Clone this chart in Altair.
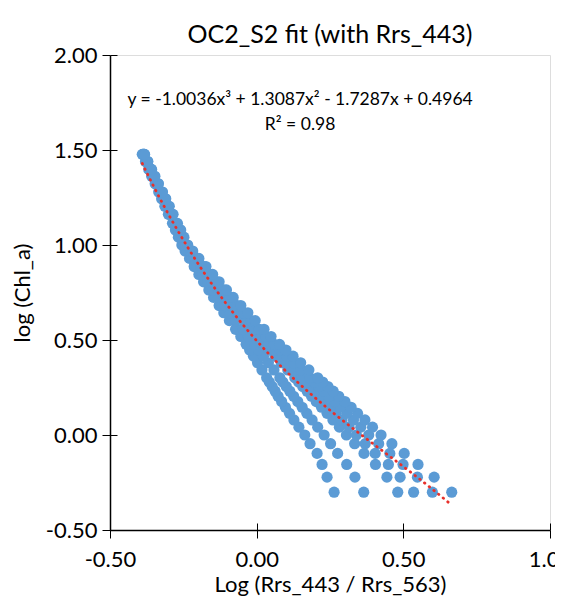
import math
import altair as alt
import pandas as pd

# Chl_a levels (mg m-3) of the rows of points
chl_levels = [0.5, 0.6, 0.7, 0.8, 0.9, 1.0, 1.1, 1.2, 1.3, 1.4, 1.5, 1.6, 1.7, 1.8, 1.9, 2.0,
              2.2, 2.4, 2.6, 2.8, 3.0, 3.3, 3.6, 4.0, 4.4, 4.8, 5.3, 5.8, 6.4, 7.0, 7.7, 8.5,
              9.3, 10, 11, 12, 13, 14.5, 16, 17.5, 19, 21, 23, 25, 27.5, 30]

# log(Rrs_443/Rrs_563) of each of the six simulated series at those levels
s1 = [.264, .240, .223, .206, .182, .164, .144, .127, .112, .098, .085, .073, .063, .053, .043, .034,
      .018, .003, -.011, -.024, -.036, -.054, -.072, -.093, -.112, -.128, -.147, -.163, -.181, -.197,
      -.213, -.229, -.244, -.255, -.267, -.277, -.287, -.301, -.313, -.324, -.334, -.346, -.358,
      -.368, -.379, -.390]
s2 = [.365, .335, .307, .276, .252, .230, .208, .189, .171, .155, .140, .126, .113, .101, .089, .079,
      .059, .040, .023, .008, -.007, -.028, -.047, -.070, -.091, -.109, -.130, -.148, -.167, -.185,
      -.203, -.221, -.237, -.250, -.262, -.273, -.283, -.297, -.309, -.320, -.331, -.343, -.355,
      -.365, -.377, -.388]
s3 = [.481, .444, .405, .366, .334, .306, .282, .260, .240, .221, .203, .187, .172, .157, .143, .130,
      .106, .084, .063, .044, .027, .002, -.019, -.044, -.067, -.087, -.110, -.130, -.152, -.171,
      -.191, -.211, -.230, -.244, -.256, -.268, -.278, -.292, -.305, -.316, -.327, -.340, -.352,
      -.362, -.375, -.386]
s4 = [.535, .489, .449, .404, .370, .340, .315, .291, .270, .250, .232, .214, .198, .182, .167, .153,
      .127, .103, .081, .061, .042, .016, -.006, -.033, -.056, -.078, -.101, -.122, -.145, -.165,
      -.186, -.207, -.226, -.241, -.254, -.265, -.276, -.290, -.303, -.314, -.325, -.338, -.350,
      -.361, -.373, -.385]
s5 = [.599, .548, .499, .454, .416, .382, .355, .330, .307, .286, .266, .247, .229, .212, .196, .181,
      .152, .126, .102, .080, .060, .032, .009, -.019, -.043, -.066, -.090, -.112, -.136, -.158,
      -.179, -.202, -.222, -.238, -.251, -.262, -.273, -.287, -.300, -.312, -.323, -.336, -.349,
      -.360, -.372, -.383]
s6 = [.665, .605, .550, .503, .461, .424, .395, .369, .344, .322, .301, .280, .261, .243, .225, .208,
      .178, .150, .124, .100, .078, .049, .025, -.005, -.030, -.054, -.080, -.103, -.128, -.150,
      -.173, -.197, -.218, -.235, -.248, -.259, -.270, -.285, -.298, -.310, -.321, -.335, -.347,
      -.358, -.371, -.382]

# polynomial trendline coefficients as printed on the chart (x^3, x^2, x, 1)
trend_coef = [-1.0036, 1.3087, -1.7287, 0.4964]
equation_lines = ["y = -1.0036x³ + 1.3087x² - 1.7287x + 0.4964", "R² = 0.98"]

x_ticks = [-0.5, 0.0, 0.5, 1.0]
y_ticks = [-0.5, 0.0, 0.5, 1.0, 1.5, 2.0]

rows = []
for sname, xs in zip(["S1", "S2", "S3", "S4", "S5", "S6"], [s1, s2, s3, s4, s5, s6]):
    for c, xv in zip(chl_levels, xs):
        rows.append({"series": sname, "x": xv, "y": math.log10(c)})
df = pd.DataFrame(rows)

FONT = "Lato"
LABEL_EXPR = "datum.value < 0 ? '-' + format(-datum.value, '.2f') : format(datum.value, '.2f')"
xmin, xmax = min(df["x"]), max(df["x"])

xscale = alt.Scale(domain=[-0.5, 1.0], nice=False, zero=False)
yscale = alt.Scale(domain=[-0.5, 2.0], nice=False, zero=False)

points = alt.Chart(df).mark_circle(size=125, opacity=1, color="#5B9BD5").encode(
    x=alt.X("x:Q", scale=xscale,
            axis=alt.Axis(values=x_ticks, labelExpr=LABEL_EXPR, title="Log (Rrs_443 / Rrs_563)",
                          orient="bottom", grid=False, tickSize=8, labelPadding=11, titlePadding=4,
                          domainColor="black", tickColor="black", domainWidth=1.5, tickWidth=1,
                          labelFontSize=22, titleFontSize=22, labelFont=FONT, titleFont=FONT,
                          labelColor="black", titleColor="black", titleFontWeight="normal",
                          labelFlush=False, labelOverlap=False)),
    y=alt.Y("y:Q", scale=yscale,
            axis=alt.Axis(values=y_ticks, labelExpr=LABEL_EXPR, title="log (Chl_a)",
                          orient="left", grid=False, tickSize=8, labelPadding=5, titlePadding=11,
                          domainColor="black", tickColor="black", domainWidth=1.5, tickWidth=1,
                          labelFontSize=22, titleFontSize=22, labelFont=FONT, titleFont=FONT,
                          labelColor="black", titleColor="black", titleFontWeight="normal",
                          labelFlush=False, labelOverlap=False)),
)

trend = alt.Chart(alt.sequence(start=xmin, stop=xmax + 0.001, step=0.004, as_="x")).transform_calculate(
    y=f"{trend_coef[0]}*pow(datum.x,3) + {trend_coef[1]}*pow(datum.x,2) + {trend_coef[2]}*datum.x + {trend_coef[3]}"
).mark_line(color="#E8302A", strokeWidth=2.8, strokeDash=[0.5, 5.5], strokeCap="round").encode(
    x=alt.X("x:Q", scale=xscale,
            axis=alt.Axis(values=x_ticks, orient="bottom", labels=False, domain=False, title=None,
                          grid=False, tickSize=7, offset=-7, tickColor="black")),
    y=alt.Y("y:Q", scale=yscale,
            axis=alt.Axis(values=y_ticks, orient="left", labels=False, domain=False, title=None,
                          grid=False, tickSize=7, offset=-7, tickColor="black")),
)

eq_df = pd.DataFrame({"t": equation_lines, "x": [0.148, 0.148], "y": [1.763, 1.632]})
eq = alt.Chart(eq_df).mark_text(font=FONT, fontSize=17.5, color="black").encode(
    x=alt.X("x:Q", scale=xscale, axis=None),
    y=alt.Y("y:Q", scale=yscale, axis=None),
    text="t:N",
)

chart = alt.layer(points, trend, eq).resolve_axis(x="independent", y="independent").properties(
    width=440, height=475,
    title=alt.TitleParams("OC2_S2 fit (with Rrs_443)", font=FONT, fontSize=25,
                          fontWeight="normal", color="black", anchor="middle", offset=-4),
    autosize=alt.AutoSizeParams(type="none"),
    padding={"left": 102, "top": 47, "right": 5, "bottom": 67},
).configure_view(stroke="black", strokeWidth=1.5).configure(background="white")

chart.save("out.html", embed_options={"renderer": "svg", "actions": False})
